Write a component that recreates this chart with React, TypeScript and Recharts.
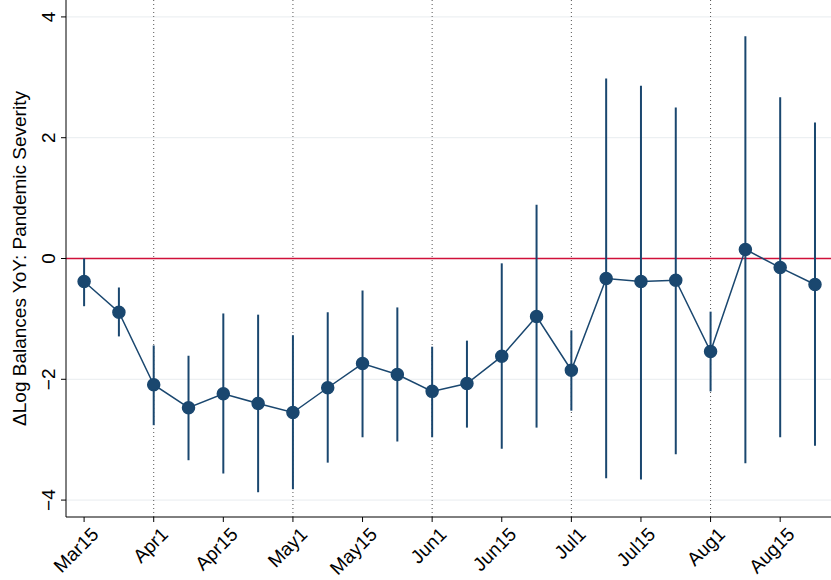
import { CartesianGrid, ComposedChart, ErrorBar, Line, ReferenceLine, XAxis, YAxis } from 'recharts';

const idx = [0,1,2,3,4,5,6,7,8,9,10,11,12,13,14,15,16,17,18,19,20,21];
const coef = [-0.38,-0.89,-2.09,-2.47,-2.24,-2.40,-2.55,-2.14,-1.74,-1.92,-2.20,-2.07,-1.62,-0.96,-1.85,-0.33,-0.38,-0.36,-1.54,0.15,-0.15,-0.43];
const upper = [0.0,-0.48,-1.44,-1.61,-0.91,-0.93,-1.27,-0.89,-0.53,-0.81,-1.46,-1.36,-0.08,0.89,-1.19,2.98,2.86,2.50,-0.88,3.68,2.67,2.25];
const lower = [-0.79,-1.29,-2.76,-3.34,-3.56,-3.87,-3.82,-3.38,-2.96,-3.03,-2.96,-2.80,-3.15,-2.80,-2.52,-3.64,-3.66,-3.24,-2.20,-3.39,-2.96,-3.10];
const xTicks = [0,2,4,6,8,10,12,14,16,18,20];
const xLabels = ['Mar15','Apr1','Apr15','May1','May15','Jun1','Jun15','Jul1','Jul15','Aug1','Aug15'];
const monthLines = [2,6,10,14,18];
const yTicks = [-4,-2,0,2,4];

const data = idx.map((i) => ({ i, coef: coef[i], err: [coef[i] - lower[i], upper[i] - coef[i]] }));
const NAVY = '#1a476f';
const FONT = 'Liberation Sans, Arial, sans-serif';

function XTick({ x, y, payload }: any) {
  const label = xLabels[xTicks.indexOf(payload.value)];
  return (
    <text x={x + 6} y={y + 2} transform={`rotate(-45 ${x + 6} ${y + 2})`} textAnchor="end" dominantBaseline="hanging"
      fontSize={19} fontFamily={FONT} fill="#000">{label}</text>
  );
}

function YTick({ x, y, payload }: any) {
  return (
    <text x={x - 4} y={y} transform={`rotate(-90 ${x - 4} ${y})`} textAnchor="middle"
      fontSize={19} fontFamily={FONT} fill="#000">{payload.value < 0 ? '\u2212' + Math.abs(payload.value) : payload.value}</text>
  );
}

export default function App() {
  return (
    <div style={{ position: 'absolute', left: 0, top: 0, background: '#fff' }}>
      <ComposedChart width={831} height={580} data={data} margin={{ top: 0, right: 0, bottom: 0, left: 0 }}>
        <CartesianGrid horizontal={true} vertical={false} stroke="#e8ecef" horizontalValues={yTicks} />
        <XAxis type="number" dataKey="i" domain={[-0.52, 21.46]} ticks={xTicks} tick={<XTick />} interval={0}
          height={63} stroke="#000" tickSize={5} allowDataOverflow />
        <YAxis type="number" domain={[-4.28, 4.28]} ticks={yTicks} tick={<YTick />} width={66} stroke="#000" tickSize={5}
          allowDataOverflow
          label={{ value: '\u0394Log Balances YoY: Pandemic Severity', angle: -90, position: 'insideLeft', dx: 14, dy: 0,
            style: { textAnchor: 'middle', fontSize: 19, fontFamily: FONT, fill: '#000' } }} />
        {monthLines.map((m) => (
          <ReferenceLine key={m} x={m} stroke="#555" strokeDasharray="1 3" />
        ))}
        <ReferenceLine y={0} stroke="#d0103a" strokeWidth={1.5} />
        <Line dataKey="coef" stroke={NAVY} strokeWidth={1.5} isAnimationActive={false}
          dot={{ r: 6, fill: NAVY, stroke: NAVY }} >
          <ErrorBar dataKey="err" direction="y" width={0} stroke={NAVY} strokeWidth={2} />
        </Line>
      </ComposedChart>
    </div>
  );
}
